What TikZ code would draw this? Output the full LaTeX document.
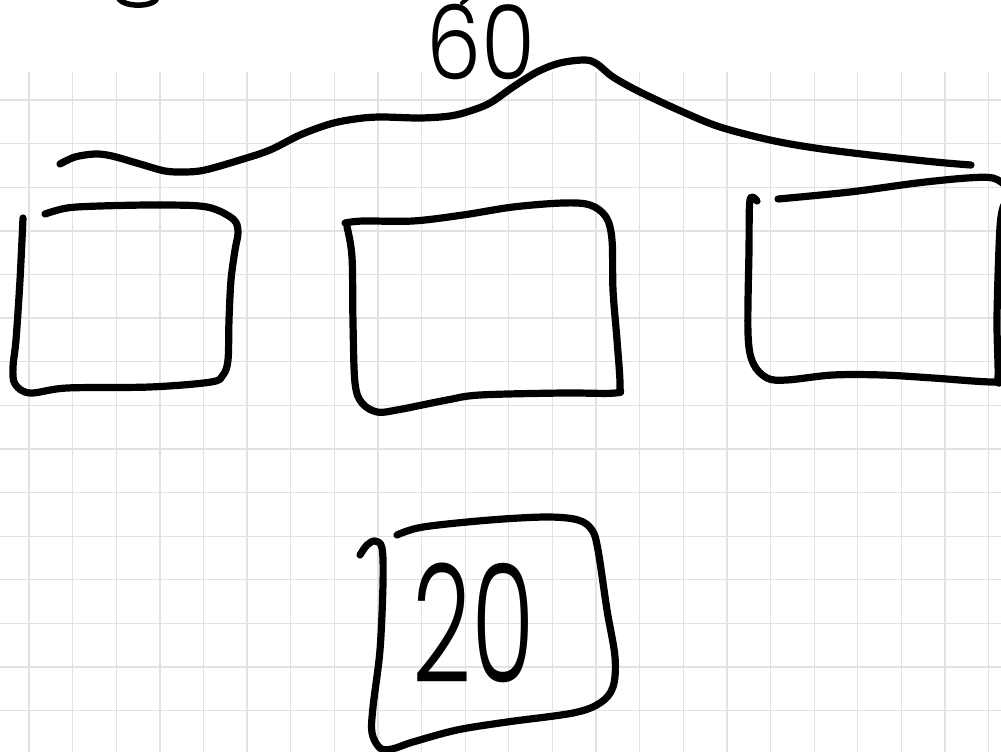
\documentclass[tikz,border=0pt]{standalone}
\usepackage{fontspec}
\newfontfamily\handfont{Poppins Light}
\definecolor{gridc}{RGB}{226,226,226}
\begin{document}
\begin{tikzpicture}[x=1pt,y=-1pt,
  gridline/.style={draw=gridc,line width=1.3pt},
  ink/.style={draw=black,line width=7.2pt,line cap=round,line join=round},
  handtext/.style={inner sep=0pt,anchor=base,font=\handfont}]
\useasboundingbox (0,0) rectangle (1001,752);
\fill[white] (0,0) rectangle (1001,752);
% grid paper
\foreach \k in {0,...,15} {
  \pgfmathsetmacro{\yy}{100+43.62*\k}
  \draw[gridline] (0,\yy) -- (1001,\yy);
}
\foreach \k in {0,...,22} {
  \pgfmathsetmacro{\xx}{29+43.62*\k}
  \draw[gridline] (\xx,72) -- (\xx,752);
}
% fragments of cut-off writing at the top edge
\draw[ink,line width=5.5pt] (119,-1) .. controls (125,7) and (150,7) .. (156,0);
\draw[ink,line width=4pt] (462,3) -- (467,-1);
% brace line under 60
\draw[ink] plot[smooth,tension=0.55] coordinates {(60,164) (75,157) (95,154) (112,156) (140,164) (165,171) (185,172) (205,170) (240,160) (270,150) (300,135) (330,124) (355,119) (380,117) (420,118) (450,116) (470,111) (490,103) (513,87) (537,72) (560,63) (585,60) (597,64) (613,77) (640,92) (683,112) (720,127) (770,140) (815,148) (870,155) (935,162) (971,165)};
% left box
\draw[ink] plot[smooth,tension=0.55] coordinates {(23,218) (20,280) (16,340) (13,367) (15,384) (30,393) (67,388) (150,387) (211,382) (223,375) (228,360) (229,320) (231,280) (235,250) (238,232) (233,219) (207,207) (160,205) (100,206) (67,208) (45,214)};
% middle box
\draw[ink] plot[smooth,tension=0.55] coordinates {(345,223) (363,221) (413,221) (463,215) (513,207) (563,203) (590,205) (606,217) (612,240) (613,290) (617,340) (620,386) (615,393) (563,393) (480,395) (447,400) (397,410) (377,412) (362,403) (355,383) (353,323) (352,257) (347,227)};
% right box
\draw[ink] plot[smooth,tension=0.55] coordinates {(757,201) (750,200) (749,250) (748,333) (753,363) (767,378) (787,380) (833,375) (883,375) (933,378) (993,382) (998,377) (997,317) (1000,227) (1004,205)};
\draw[ink] plot[smooth,tension=0.55] coordinates {(778,199) (850,192) (917,183) (967,178) (993,178) (1006,186)};
% bottom box
\draw[ink] plot[smooth,tension=0.55] coordinates {(360,555) (367,545) (375,541) (382,548) (383,583) (380,650) (373,707) (372,733) (380,748) (392,749) (413,742) (457,730) (507,722) (573,713) (600,703) (613,687) (615,657) (607,610) (598,550) (592,530) (578,520) (547,517) (490,520) (423,527) (397,535)};
% numbers
\node[handtext,xscale=0.85] (sixty) at (481,80) {\fontsize{103}{103}\selectfont 60};
\node[handtext,xscale=0.63] (twenty) at (474,682) {\fontsize{164}{164}\selectfont 20};
\end{tikzpicture}
\end{document}
